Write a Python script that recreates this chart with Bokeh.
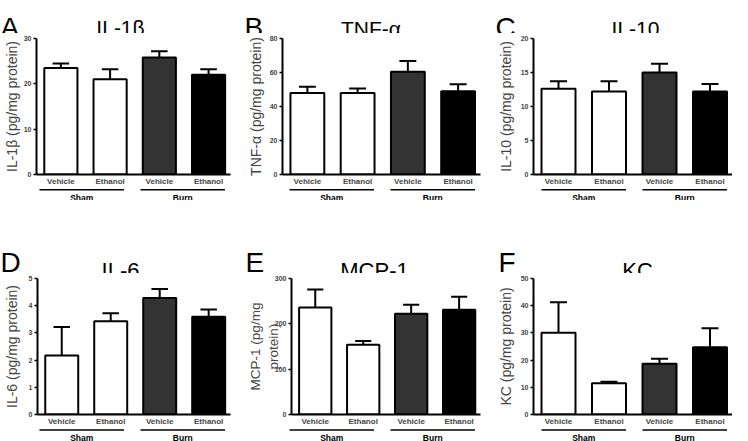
from bokeh.plotting import figure
from bokeh.layouts import row, column
from bokeh.models import Range1d, FixedTicker, Label
from bokeh.core.properties import value
from bokeh.embed import file_html
from bokeh.resources import INLINE

# ---------------- data ----------------
groups = ["Sham", "Burn"]
treatments = ["Vehicle", "Ethanol", "Vehicle", "Ethanol"]
bar_colors = ["white", "white", "#333333", "black"]
positions = [1, 2, 3, 4]
group_members = [(1, 2), (3, 4)]

il1b_mean = [23.5, 21.0, 25.8, 22.0]
il1b_sem = [1.0, 2.2, 1.4, 1.2]
il1b_ticks = [0, 10, 20, 30]

tnfa_mean = [48.0, 48.0, 60.5, 49.0]
tnfa_sem = [3.6, 2.6, 6.3, 4.1]
tnfa_ticks = [0, 20, 40, 60, 80]

il10_mean = [12.6, 12.2, 15.0, 12.2]
il10_sem = [1.1, 1.5, 1.3, 1.1]
il10_ticks = [0, 5, 10, 15, 20]

il6_mean = [2.17, 3.43, 4.28, 3.59]
il6_sem = [1.05, 0.29, 0.33, 0.27]
il6_ticks = [0, 1, 2, 3, 4, 5]

mcp1_mean = [236, 154, 222, 231]
mcp1_sem = [40, 8, 20, 29]
mcp1_ticks = [0, 100, 200, 300]

kc_mean = [30.1, 11.5, 18.7, 24.7]
kc_sem = [11.2, 0.5, 1.8, 7.0]
kc_ticks = [0, 10, 20, 30, 40, 50]

panel_letters = ["A", "B", "C", "D", "E", "F"]
panel_titles = ["IL-1β", "TNF-α", "IL-10", "IL-6", "MCP-1", "KC"]
panel_ylabels = ["IL-1β (pg/mg protein)", "TNF-α (pg/mg protein)", "IL-10 (pg/mg protein)",
                 "IL-6 (pg/mg protein)", "MCP-1 (pg/mg\nprotein)", "KC (pg/mg protein)"]
panel_means = [il1b_mean, tnfa_mean, il10_mean, il6_mean, mcp1_mean, kc_mean]
panel_sems = [il1b_sem, tnfa_sem, il10_sem, il6_sem, mcp1_sem, kc_sem]
panel_ticks = [il1b_ticks, tnfa_ticks, il10_ticks, il6_ticks, mcp1_ticks, kc_ticks]

# ---------------- layout ----------------
FONT = "Liberation Sans"
COL_W = 244
COL_LEFT = [31, 37, 45]
FRAME_W = 199
HEADER_H = [33, 73]
CHART_TOP = 5
FRAME_H = [138, 138]
CHART_BOTTOM = 12
FOOTER_H = [12, 13]
BAR_STEP = 50.5
X_START = 1 - 25 / BAR_STEP
X_END = X_START + FRAME_W / BAR_STEP
BAR_W = 34 / BAR_STEP
CAP_HALF = 8.5 / BAR_STEP

# header text placement (x from column left, y up from header bottom)
letter_xy = [(0, 6), (0, 6), (7, 6), (0, 11), (1, 11), (10, 11)]
title_xy = [(120, 6), (126.5, 5), (147, 5), (120, 3), (130, 3), (149, 3)]
title_size = ["21px", "21px", "21px", "22px", "22px", "22px"]
ylabel_standoff = [1, 3, 4, 6, -9, 4]
ylabel_size = ["14px", "14px", "14px", "14px", "13.5px", "14px"]
bracket_y = [10.8, 11.5]
glabel_y = [3.0, 4.0]


def bare(p):
    p.outline_line_color = None
    p.grid.visible = False
    p.background_fill_color = "white"
    p.border_fill_color = "white"


panel_cols = []
for i in range(6):
    r, c = divmod(i, 3)
    ticks = panel_ticks[i]
    ymax = ticks[-1]
    right = COL_W - COL_LEFT[c] - FRAME_W

    # ---- header: panel letter and title
    h = figure(width=COL_W, height=HEADER_H[r], x_range=Range1d(0, COL_W),
               y_range=Range1d(0, HEADER_H[r]), x_axis_location=None, y_axis_location=None,
               min_border=0, min_border_left=0, min_border_right=0,
               min_border_top=0, min_border_bottom=0, frame_align=False,
               output_backend="svg", toolbar_location=None, tools="")
    bare(h)
    lx, ly = letter_xy[i]
    h.add_layout(Label(x=lx, y=ly, text=panel_letters[i], text_font=FONT, text_font_size="28px",
                       text_align="left", text_baseline="alphabetic", text_color="black"))
    tx, ty = title_xy[i]
    h.add_layout(Label(x=tx, y=ty, text=panel_titles[i], text_font=FONT,
                       text_font_size=title_size[i], text_align="center",
                       text_baseline="alphabetic", text_color="black"))

    # ---- chart
    xr = Range1d(X_START, X_END)
    p = figure(width=COL_W, height=CHART_TOP + FRAME_H[r] + CHART_BOTTOM,
               min_border_left=COL_LEFT[c], min_border_right=right,
               min_border_top=CHART_TOP, min_border_bottom=CHART_BOTTOM,
               x_range=xr, y_range=Range1d(0, ymax), frame_align=False,
               output_backend="svg", toolbar_location=None, tools="")
    bare(p)
    means = panel_means[i]
    tops = [m + s for m, s in zip(means, panel_sems[i])]
    p.vbar(x=positions, top=means, width=BAR_W, bottom=0,
           fill_color=bar_colors, line_color="black", line_width=2)
    p.segment(x0=positions, y0=means, x1=positions, y1=tops, line_color="black", line_width=2)
    p.segment(x0=[x - CAP_HALF for x in positions], y0=tops,
              x1=[x + CAP_HALF for x in positions], y1=tops, line_color="black", line_width=2)

    xa = p.xaxis[0]
    xa.ticker = FixedTicker(ticks=positions)
    xa.major_label_overrides = {x: t for x, t in zip(positions, treatments)}
    xa.major_label_text_font = FONT
    xa.major_label_text_font_style = "bold"
    xa.major_label_text_font_size = "8px"
    xa.major_label_standoff = 2
    xa.major_tick_out = 0
    xa.major_tick_in = 0
    xa.major_tick_line_color = None
    xa.minor_tick_line_color = None
    xa.axis_line_width = 2
    xa.axis_line_color = "black"

    ya = p.yaxis[0]
    ya.ticker = FixedTicker(ticks=ticks)
    ya.major_label_text_font = FONT
    ya.major_label_text_font_style = "bold"
    ya.major_label_text_font_size = "7px"
    ya.major_label_standoff = 2
    ya.major_tick_out = 3
    ya.major_tick_in = 0
    ya.major_tick_line_width = 1.5
    ya.minor_tick_line_color = None
    ya.axis_line_width = 2
    ya.axis_line_color = "black"
    ya.axis_label = panel_ylabels[i]
    ya.axis_label_text_font = FONT
    ya.axis_label_text_font_style = "normal"
    ya.axis_label_text_font_size = ylabel_size[i]
    ya.axis_label_standoff = ylabel_standoff[i]

    # ---- footer: group brackets and group names
    f = figure(width=COL_W, height=FOOTER_H[r], x_range=xr, y_range=Range1d(0, FOOTER_H[r]),
               x_axis_location=None, y_axis_location=None,
               min_border_left=COL_LEFT[c], min_border_right=right,
               min_border_top=0, min_border_bottom=0, frame_align=False,
               output_backend="svg", toolbar_location=None, tools="")
    bare(f)
    f.segment(x0=[a - BAR_W / 2 for a, b in group_members], y0=[bracket_y[r]] * 2,
              x1=[b + BAR_W / 2 for a, b in group_members], y1=[bracket_y[r]] * 2,
              line_color="black", line_width=1.5)
    f.text(x=[(a + b) / 2 for a, b in group_members], y=[glabel_y[r]] * 2, text=groups,
           text_font=value(FONT), text_font_style="bold", text_font_size="8.5px",
           text_align="center", text_baseline="alphabetic", text_color="black")

    panel_cols.append(column(h, p, f, spacing=0))

layout = column(row(*panel_cols[0:3], spacing=0), row(*panel_cols[3:6], spacing=0), spacing=0)
open("out.html", "w").write(file_html(layout, INLINE))
